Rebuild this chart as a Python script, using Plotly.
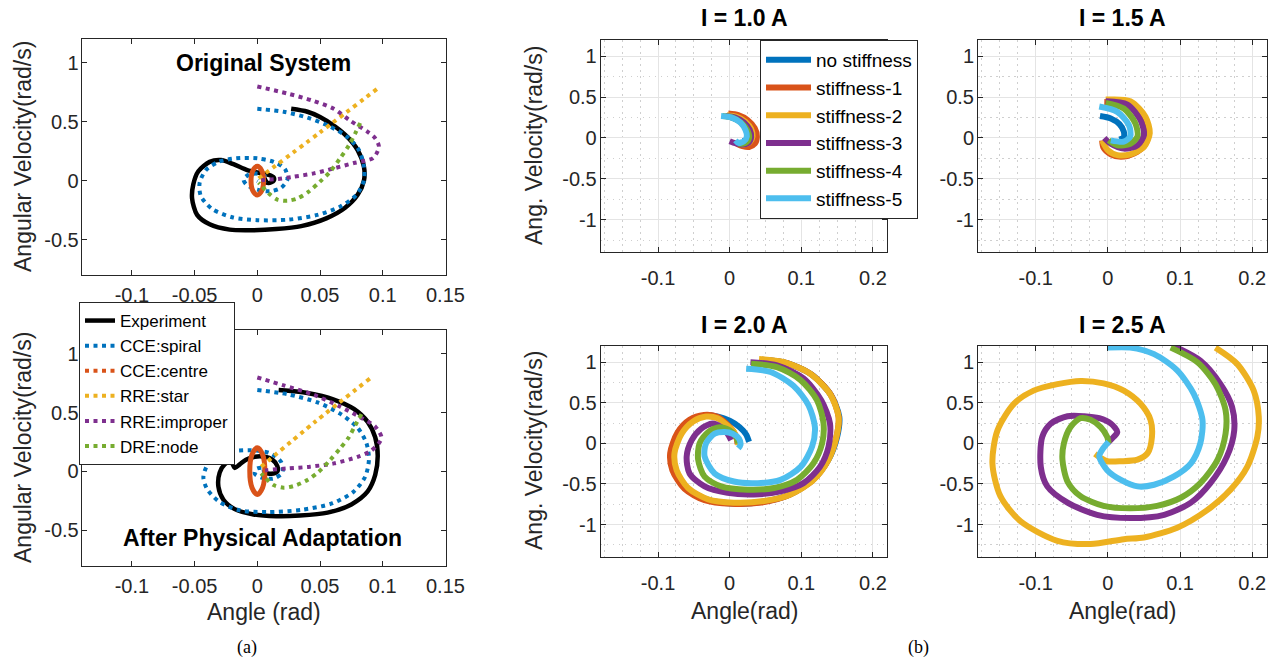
import plotly.graph_objects as go

# ---------------- DATA ----------------
# (a) phase portraits: Original System
orig_exp_x = [0.027, 0.040, 0.050, 0.062, 0.072, 0.080, 0.085, 0.085, 0.080, 0.070, 0.055, 0.035, 0.015, -0.005, -0.022, -0.038, -0.048, -0.052, -0.051, -0.047, -0.038, -0.029, -0.019, -0.008, 0.002, 0.009, 0.013, 0.013, 0.009, 0.005, 0.008]
orig_exp_y = [0.61, 0.585, 0.54, 0.46, 0.37, 0.26, 0.12, 0.0, -0.12, -0.23, -0.32, -0.385, -0.41, -0.42, -0.415, -0.37, -0.29, -0.15, -0.03, 0.08, 0.16, 0.175, 0.14, 0.09, 0.065, 0.05, 0.03, 0.0, -0.02, -0.005, 0.015]
orig_spiral_x = [0.0, 0.021, 0.040, 0.058, 0.072, 0.081, 0.085, 0.085, 0.079, 0.066, 0.048, 0.025, 0.0, -0.020, -0.036, -0.045, -0.046, -0.041, -0.031, -0.017, 0.0, 0.013, 0.022, 0.024, 0.019, 0.010, 0.0, -0.008, -0.011, -0.007, 0.0, 0.006, 0.007, 0.003, 0.0]
orig_spiral_y = [0.61, 0.585, 0.535, 0.46, 0.37, 0.26, 0.12, 0.0, -0.12, -0.22, -0.29, -0.33, -0.335, -0.31, -0.24, -0.13, -0.02, 0.09, 0.16, 0.19, 0.19, 0.16, 0.10, 0.01, -0.06, -0.09, -0.075, -0.04, 0.01, 0.05, 0.06, 0.04, 0.005, -0.015, 0.0]
orig_centre_x = [0.0, 0.0035, 0.005, 0.0035, 0.0, -0.0035, -0.005, -0.0035, 0.0]
orig_centre_y = [0.122, 0.086, 0.0, -0.086, -0.121, -0.086, 0.0, 0.086, 0.122]
orig_star_x = [0.001, 0.050, 0.098]
orig_star_y = [0.02, 0.41, 0.80]
orig_improper_x = [0.0, 0.024, 0.044, 0.061, 0.074, 0.088, 0.094, 0.097, 0.095, 0.092, 0.077, 0.061, 0.045, 0.029, 0.016, 0.005, 0.002]
orig_improper_y = [0.80, 0.74, 0.68, 0.61, 0.51, 0.415, 0.36, 0.29, 0.23, 0.19, 0.15, 0.105, 0.062, 0.034, 0.014, 0.006, 0.0]
orig_node_x = [0.082, 0.078, 0.073, 0.066, 0.058, 0.050, 0.041, 0.032, 0.024, 0.016, 0.009, 0.004, 0.001]
orig_node_y = [0.49, 0.40, 0.30, 0.19, 0.076, -0.008, -0.093, -0.15, -0.17, -0.16, -0.107, -0.05, -0.017]

# (a) phase portraits: After Physical Adaptation
adap_exp_x = [0.017, 0.040, 0.061, 0.077, 0.088, 0.094, 0.096, 0.094, 0.088, 0.075, 0.056, 0.034, 0.015, -0.003, -0.018, -0.027, -0.031, -0.030, -0.026, -0.021, -0.018, -0.014, -0.009, -0.002, 0.006, 0.012, 0.016, 0.016, 0.011, 0.005]
adap_exp_y = [0.69, 0.665, 0.61, 0.53, 0.42, 0.29, 0.13, -0.03, -0.17, -0.28, -0.35, -0.375, -0.38, -0.365, -0.32, -0.24, -0.13, -0.01, 0.06, 0.085, 0.03, 0.06, 0.10, 0.125, 0.125, 0.10, 0.045, 0.0, -0.02, -0.005]
adap_spiral_x = [0.0, 0.024, 0.048, 0.066, 0.080, 0.087, 0.089, 0.086, 0.077, 0.060, 0.036, 0.008, -0.014, -0.030, -0.040, -0.043, -0.040, -0.032, -0.020, -0.005, 0.010, 0.019, 0.020, 0.013, 0.004, -0.002, -0.001, 0.004, 0.006, 0.002]
adap_spiral_y = [0.69, 0.655, 0.585, 0.49, 0.37, 0.24, 0.10, -0.045, -0.17, -0.27, -0.325, -0.345, -0.33, -0.26, -0.15, -0.05, 0.05, 0.125, 0.17, 0.18, 0.155, 0.08, -0.01, -0.06, -0.055, -0.02, 0.02, 0.03, 0.005, -0.005]
adap_centre_x = [0.0, 0.0042, 0.006, 0.0042, 0.0, -0.0042, -0.006, -0.0042, 0.0]
adap_centre_y = [0.20, 0.143, 0.003, -0.138, -0.195, -0.138, 0.003, 0.143, 0.20]
adap_star_x = [0.003, 0.046, 0.090]
adap_star_y = [0.04, 0.42, 0.79]
adap_improper_x = [0.0, 0.021, 0.045, 0.066, 0.082, 0.094, 0.099, 0.097, 0.090, 0.080, 0.061, 0.042, 0.024, 0.008, 0.003]
adap_improper_y = [0.797, 0.73, 0.65, 0.55, 0.46, 0.38, 0.29, 0.24, 0.17, 0.124, 0.068, 0.04, 0.025, 0.011, 0.003]
adap_node_x = [0.083, 0.078, 0.073, 0.066, 0.058, 0.049, 0.040, 0.029, 0.021, 0.013, 0.007, 0.003]
adap_node_y = [0.486, 0.39, 0.29, 0.195, 0.096, -0.003, -0.073, -0.124, -0.138, -0.116, -0.06, -0.017]

# (b) trajectories for different currents; series: no stiffness, stiffness-1..5
i10_x = [
    [0.002, 0.015, 0.024, 0.027, 0.025, 0.018],
    [-0.002, 0.012, 0.025, 0.035, 0.038, 0.035, 0.027, 0.018, 0.010],
    [-0.004, 0.010, 0.022, 0.030, 0.032, 0.028, 0.020, 0.010],
    [-0.006, 0.008, 0.020, 0.028, 0.030, 0.026, 0.016, 0.006, 0.0],
    [-0.010, 0.004, 0.017, 0.025, 0.027, 0.022, 0.012],
    [-0.012, 0.003, 0.015, 0.022, 0.024, 0.020, 0.012, 0.008],
]
i10_y = [
    [0.25, 0.21, 0.13, 0.04, -0.02, -0.04],
    [0.30, 0.28, 0.22, 0.12, 0.02, -0.07, -0.11, -0.10, -0.07],
    [0.28, 0.26, 0.20, 0.11, 0.02, -0.05, -0.08, -0.06],
    [0.27, 0.25, 0.19, 0.10, 0.01, -0.06, -0.08, -0.06, -0.04],
    [0.27, 0.25, 0.18, 0.09, 0.0, -0.06, -0.07],
    [0.27, 0.25, 0.19, 0.10, 0.02, -0.04, -0.06, -0.03],
]
i15_x = [
    [-0.011, 0.004, 0.016, 0.022, 0.022, 0.016],
    [-0.005, 0.020, 0.042, 0.054, 0.056, 0.050, 0.036, 0.018, 0.004, -0.006, -0.008],
    [-0.003, 0.031, 0.052, 0.058, 0.050, 0.031, 0.013, 0.0, -0.008],
    [-0.003, 0.027, 0.045, 0.050, 0.041, 0.022, 0.004, -0.005],
    [-0.003, 0.022, 0.038, 0.041, 0.031, 0.013, 0.001],
    [-0.012, 0.013, 0.029, 0.031, 0.022, 0.004],
]
i15_y = [
    [0.27, 0.24, 0.17, 0.08, 0.01, -0.02],
    [0.44, 0.42, 0.32, 0.16, 0.02, -0.10, -0.19, -0.23, -0.20, -0.12, -0.03],
    [0.47, 0.45, 0.26, 0.06, -0.11, -0.20, -0.21, -0.15, -0.03],
    [0.45, 0.41, 0.22, 0.04, -0.09, -0.13, -0.07, 0.0],
    [0.43, 0.36, 0.18, 0.02, -0.07, -0.09, -0.03],
    [0.385, 0.32, 0.16, 0.02, -0.045, -0.03],
]
i20_x = [
    [0.045, 0.080, 0.114, 0.141, 0.153, 0.150, 0.138, 0.116, 0.084, 0.046, 0.004, -0.032, -0.060, -0.077, -0.080, -0.070, -0.053, -0.034, -0.016, 0.0, 0.014, 0.023, 0.027],
    [0.045, 0.080, 0.114, 0.141, 0.152, 0.149, 0.137, 0.115, 0.082, 0.044, 0.002, -0.035, -0.063, -0.080, -0.083, -0.073, -0.056, -0.036, -0.018, -0.004, 0.005, 0.010, 0.011],
    [0.041, 0.076, 0.112, 0.140, 0.152, 0.149, 0.138, 0.117, 0.085, 0.048, 0.006, -0.030, -0.058, -0.074, -0.077, -0.067, -0.051, -0.033, -0.017, -0.003, 0.006, 0.011, 0.012],
    [0.029, 0.066, 0.103, 0.128, 0.140, 0.138, 0.126, 0.103, 0.071, 0.034, -0.003, -0.035, -0.056, -0.060, -0.053, -0.040, -0.024, -0.012, -0.003, 0.002],
    [0.030, 0.066, 0.099, 0.122, 0.131, 0.129, 0.117, 0.094, 0.062, 0.025, -0.012, -0.035, -0.044, -0.042, -0.030, -0.014, 0.0, 0.009, 0.012],
    [0.023, 0.057, 0.089, 0.110, 0.119, 0.115, 0.099, 0.071, 0.039, 0.006, -0.021, -0.035, -0.033, -0.021, -0.007, 0.004, 0.013, 0.015, 0.012],
]
i20_y = [
    [1.03, 0.99, 0.85, 0.60, 0.33, 0.08, -0.20, -0.45, -0.63, -0.72, -0.74, -0.69, -0.55, -0.33, -0.12, 0.12, 0.28, 0.34, 0.33, 0.28, 0.20, 0.11, 0.02],
    [1.03, 0.99, 0.85, 0.60, 0.33, 0.08, -0.21, -0.46, -0.64, -0.73, -0.745, -0.70, -0.56, -0.33, -0.12, 0.13, 0.29, 0.35, 0.33, 0.24, 0.15, 0.05, -0.01],
    [1.04, 1.0, 0.86, 0.61, 0.33, 0.08, -0.20, -0.45, -0.63, -0.71, -0.73, -0.69, -0.55, -0.33, -0.12, 0.12, 0.27, 0.33, 0.31, 0.22, 0.14, 0.04, -0.02],
    [1.0, 0.96, 0.80, 0.53, 0.245, -0.04, -0.29, -0.49, -0.59, -0.63, -0.61, -0.53, -0.37, -0.16, 0.04, 0.18, 0.245, 0.20, 0.12, 0.04],
    [0.98, 0.94, 0.78, 0.53, 0.245, 0.0, -0.245, -0.45, -0.55, -0.57, -0.53, -0.41, -0.20, 0.0, 0.14, 0.20, 0.16, 0.08, 0.0],
    [0.92, 0.88, 0.71, 0.47, 0.20, -0.04, -0.29, -0.45, -0.49, -0.47, -0.37, -0.16, 0.0, 0.12, 0.14, 0.12, 0.06, -0.02, -0.06],
]
# I = 2.5 A: stiffness-2..5 only
i25_x = [
    [0.149, 0.179, 0.202, 0.209, 0.207, 0.193, 0.170, 0.138, 0.096, 0.050, 0.022, -0.024, -0.070, -0.121, -0.149, -0.160, -0.153, -0.130, -0.103, -0.070, -0.038, -0.006, 0.022, 0.045, 0.059, 0.061, 0.055, 0.041, 0.018, -0.001, -0.010, -0.018],
    [0.091, 0.128, 0.156, 0.172, 0.175, 0.165, 0.142, 0.115, 0.078, 0.031, -0.015, -0.056, -0.084, -0.093, -0.091, -0.079, -0.056, -0.033, -0.012, 0.004, 0.013, 0.008, -0.001],
    [0.087, 0.124, 0.149, 0.163, 0.163, 0.152, 0.128, 0.101, 0.068, 0.031, -0.006, -0.038, -0.056, -0.063, -0.061, -0.052, -0.038, -0.024, -0.010, -0.001, 0.001],
    [0.0, 0.031, 0.064, 0.096, 0.119, 0.131, 0.128, 0.115, 0.091, 0.064, 0.041, 0.018, -0.001, -0.012, -0.008, 0.001],
]
i25_y = [
    [1.18, 0.98, 0.65, 0.33, 0.08, -0.29, -0.57, -0.82, -1.04, -1.16, -1.18, -1.24, -1.20, -0.96, -0.65, -0.245, 0.16, 0.49, 0.65, 0.73, 0.77, 0.74, 0.65, 0.49, 0.29, 0.08, -0.12, -0.20, -0.22, -0.22, -0.18, -0.13],
    [1.20, 1.02, 0.73, 0.45, 0.16, -0.16, -0.49, -0.73, -0.88, -0.92, -0.88, -0.73, -0.53, -0.29, 0.08, 0.245, 0.335, 0.335, 0.31, 0.245, 0.14, 0.08, 0.0],
    [1.18, 1.0, 0.73, 0.41, 0.12, -0.20, -0.49, -0.67, -0.77, -0.80, -0.77, -0.65, -0.47, -0.20, 0.0, 0.20, 0.31, 0.29, 0.20, 0.08, 0.0],
    [1.18, 1.18, 1.10, 0.90, 0.61, 0.29, 0.0, -0.245, -0.41, -0.51, -0.53, -0.45, -0.33, -0.16, -0.08, 0.02],
]

stiff_names = ["no stiffness", "stiffness-1", "stiffness-2", "stiffness-3", "stiffness-4", "stiffness-5"]
model_names = ["Experiment", "CCE:spiral", "CCE:centre", "RRE:star", "RRE:improper", "DRE:node"]
panel_titles = ["I = 1.0 A", "I = 1.5 A", "I = 2.0 A", "I = 2.5 A"]

left_xticks = [-0.1, -0.05, 0, 0.05, 0.1, 0.15]
left_xtext = ["-0.1", "-0.05", "0", "0.05", "0.1", "0.15"]
left_yticks = [-0.5, 0, 0.5, 1]
left_ytext = ["-0.5", "0", "0.5", "1"]
right_xticks = [-0.1, 0, 0.1, 0.2]
right_xtext = ["-0.1", "0", "0.1", "0.2"]
right_yticks = [-1, -0.5, 0, 0.5, 1]
right_ytext = ["-1", "-0.5", "0", "0.5", "1"]

# ---------------- STYLE ----------------
COLORS = ["#0072BD", "#D95319", "#EDB120", "#7E2F8E", "#77AC30", "#4DBEEE"]
FONT = "Liberation Sans, Arial, Helvetica, sans-serif"
INK = "#262626"
W, H = 1278, 660


def px2x(p):
    return p / W


def px2y(p):
    return 1 - p / H


DOT = "4px,4.5px"
fig = go.Figure()

# ---- left panels ----
left_sets = [
    ("x", "y", [(orig_exp_x, orig_exp_y), (orig_spiral_x, orig_spiral_y), (orig_centre_x, orig_centre_y),
                (orig_star_x, orig_star_y), (orig_improper_x, orig_improper_y), (orig_node_x, orig_node_y)]),
    ("x2", "y2", [(adap_exp_x, adap_exp_y), (adap_spiral_x, adap_spiral_y), (adap_centre_x, adap_centre_y),
                  (adap_star_x, adap_star_y), (adap_improper_x, adap_improper_y), (adap_node_x, adap_node_y)]),
]
left_colors = ["#000000"] + COLORS[:5]
for xa, ya, series in left_sets:
    for k, (sx, sy) in enumerate(series):
        if k == 0:
            line = dict(color="#000000", width=4.5, shape="spline", smoothing=0.8)
        elif k == 2:
            # the centre orbit loops many times, so its dots merge into a closed ring
            line = dict(color=left_colors[k], width=5, shape="spline", smoothing=1.0)
        else:
            line = dict(color=left_colors[k], width=4, dash=DOT, shape="spline", smoothing=0.8)
        fig.add_trace(go.Scatter(x=sx, y=sy, mode="lines", name=model_names[k], line=line,
                                 xaxis=xa, yaxis=ya, showlegend=False, legendgroup=model_names[k]))

# legend entries for panel (a)
for k, name in enumerate(model_names):
    if k == 0:
        line = dict(color="#000000", width=4.5)
    else:
        line = dict(color=left_colors[k], width=4, dash=DOT)
    fig.add_trace(go.Scatter(x=[None], y=[None], mode="lines", name=name, line=line,
                             xaxis="x", yaxis="y", legend="legend2", legendgroup=name))

# ---- right panels ----
right_sets = [
    ("x3", "y3", i10_x, i10_y, [0, 1, 2, 3, 4, 5], True),
    ("x4", "y4", i15_x, i15_y, [0, 1, 2, 3, 4, 5], False),
    ("x5", "y5", i20_x, i20_y, [0, 1, 2, 3, 4, 5], False),
    ("x6", "y6", i25_x, i25_y, [2, 3, 4, 5], False),
]
for xa, ya, xs, ys, idx, show in right_sets:
    for sx, sy, k in zip(xs, ys, idx):
        fig.add_trace(go.Scatter(x=sx, y=sy, mode="lines", name=stiff_names[k],
                                 line=dict(color=COLORS[k], width=6, shape="spline", smoothing=0.8),
                                 xaxis=xa, yaxis=ya, showlegend=show, legend="legend"))


def axis(domain, rng, tv, tt, anchor, grid, minor_dtick=None, standoff=0):
    d = dict(domain=domain, range=rng, tickvals=tv, ticktext=tt, anchor=anchor,
             showline=True, linecolor=INK, linewidth=1, mirror="ticks",
             ticks="inside", ticklen=5, tickcolor=INK, tickwidth=1,
             zeroline=False, showgrid=grid, gridcolor="#e4e4e4", gridwidth=1.2,
             tickfont=dict(family=FONT, size=20, color=INK), ticklabelstandoff=standoff,
             automargin=False, fixedrange=True)
    if grid and minor_dtick:
        d["minor"] = dict(dtick=minor_dtick, tick0=0, showgrid=True, gridcolor="#cfcfcf",
                          griddash="1.5px,4.5px", gridwidth=1, ticks="")
    return d


LX = [px2x(81.7), px2x(445.7)]
LYT = [px2y(275), px2y(39.3)]
LYB = [px2y(565.7), px2y(330)]
RXL = [px2x(600.7), px2x(887.3)]
RXR = [px2x(978), px2x(1266.7)]
RYT = [px2y(252.3), px2y(40)]
RYB = [px2y(557), px2y(346)]
LXR = [-0.14, 0.1502]
RR = [-0.18, 0.22]

layout = dict(
    width=W, height=H, autosize=False,
    margin=dict(l=0, r=0, t=0, b=0, pad=0, autoexpand=False),
    paper_bgcolor="white", plot_bgcolor="white",
    font=dict(family=FONT, color=INK),
    xaxis=axis(LX, LXR, left_xticks, left_xtext, "y", False, standoff=2),
    yaxis=axis(LYT, [-0.8, 1.2], left_yticks, left_ytext, "x", False, standoff=-2),
    xaxis2=axis(LX, LXR, left_xticks, left_xtext, "y2", False, standoff=2),
    yaxis2=axis(LYB, [-0.8, 1.2], left_yticks, left_ytext, "x2", False, standoff=-2),
    xaxis3=axis(RXL, RR, right_xticks, right_xtext, "y3", True, 0.025, standoff=8),
    yaxis3=axis(RYT, [-1.4, 1.2], right_yticks, right_ytext, "x3", True, 0.25, standoff=-1),
    xaxis4=axis(RXR, RR, right_xticks, right_xtext, "y4", True, 0.025, standoff=8),
    yaxis4=axis(RYT, [-1.4, 1.2], right_yticks, right_ytext, "x4", True, 0.25, standoff=-1),
    xaxis5=axis(RXL, RR, right_xticks, right_xtext, "y5", True, 0.025, standoff=8),
    yaxis5=axis(RYB, [-1.4, 1.2], right_yticks, right_ytext, "x5", True, 0.25, standoff=-1),
    xaxis6=axis(RXR, RR, right_xticks, right_xtext, "y6", True, 0.025, standoff=8),
    yaxis6=axis(RYB, [-1.4, 1.2], right_yticks, right_ytext, "x6", True, 0.25, standoff=-1),
    legend=dict(x=px2x(760), y=px2y(40), xanchor="left", yanchor="top",
                bgcolor="white", bordercolor=INK, borderwidth=1,
                font=dict(family=FONT, size=19, color="#000000"), itemwidth=45,
                tracegroupgap=0),
    legend2=dict(x=px2x(79), y=px2y(302), xanchor="left", yanchor="top",
                 bgcolor="white", bordercolor=INK, borderwidth=1,
                 font=dict(family=FONT, size=17, color="#000000"), itemwidth=30,
                 tracegroupgap=0),
)
fig.update_layout(**layout)

ann = []


def text(s, x, y, size=23, bold=False, angle=0, family=FONT, color="#000000"):
    ann.append(dict(text=("<b>%s</b>" % s) if bold else s, x=px2x(x), y=px2y(y),
                    xref="paper", yref="paper", xanchor="center", yanchor="middle",
                    showarrow=False, textangle=angle,
                    font=dict(family=family, size=size, color=color)))


text("Original System", 263, 63, bold=True)
text("After Physical Adaptation", 262, 538, bold=True)
text("Angular Velocity(rad/s)", 23, 157, angle=-90, color=INK)
text("Angular Velocity(rad/s)", 23, 448, angle=-90, color=INK)
text("Angle (rad)", 264, 612, color=INK)
text("Ang. Velocity(rad/s)", 534, 146, angle=-90, color=INK)
text("Ang. Velocity(rad/s)", 534, 451, angle=-90, color=INK)
text("Angle(rad)", 744, 611, color=INK)
text("Angle(rad)", 1122, 611, color=INK)
text(panel_titles[0], 744, 18, bold=True)
text(panel_titles[1], 1122, 18, bold=True)
text(panel_titles[2], 744, 325, bold=True)
text(panel_titles[3], 1122, 325, bold=True)
text("(a)", 247, 647, size=18, family="Liberation Serif, Times New Roman, serif")
text("(b)", 918, 647, size=18, family="Liberation Serif, Times New Roman, serif")
fig.update_layout(annotations=ann)

# the page is exactly the window size: drop the default body margin
fig.write_html("out.html",
               config={"displayModeBar": False, "responsive": False},
               post_script="document.body.style.margin='0';document.body.style.overflow='hidden';")
